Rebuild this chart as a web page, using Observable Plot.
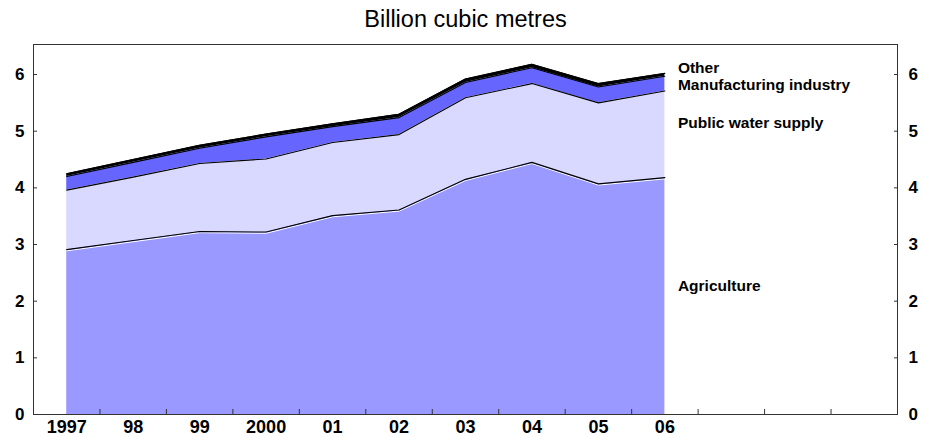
<!DOCTYPE html>
<html><head><meta charset="utf-8">
<script src="https://cdn.jsdelivr.net/npm/d3@7"></script>
<script src="https://cdn.jsdelivr.net/npm/@observablehq/plot@0.6"></script>
<style>body{margin:0;background:#fff} svg{font-family:"Liberation Sans",Arial,Helvetica,sans-serif}</style>
</head><body><div id="chart"></div>
<script>
const title = "Billion cubic metres";
const years = [1997, 1998, 1999, 2000, 2001, 2002, 2003, 2004, 2005, 2006];
const yearLabels = ["1997", "98", "99", "2000", "01", "02", "03", "04", "05", "06"];
const series = ["Agriculture", "Public water supply", "Manufacturing industry", "Other"];
const agriculture   = [2.91, 3.07, 3.23, 3.22, 3.51, 3.61, 4.15, 4.45, 4.07, 4.18];
const publicWater   = [1.05, 1.12, 1.20, 1.29, 1.29, 1.33, 1.44, 1.39, 1.43, 1.53];
const manufacturing = [0.24, 0.26, 0.27, 0.39, 0.28, 0.30, 0.27, 0.28, 0.28, 0.26];
const other         = [0.05, 0.05, 0.05, 0.05, 0.05, 0.06, 0.06, 0.06, 0.06, 0.05];
const colors = ["#9999ff", "#d9d9ff", "#6666ff", "#000000"];
const yTicks = [0, 1, 2, 3, 4, 5, 6];
const labelDy = [-10, -11, 1, -7];

const valuesBySeries = [agriculture, publicWater, manufacturing, other];
const data = [];
series.forEach((s, i) => years.forEach((y, j) => data.push({series: s, year: y, value: valuesBySeries[i][j]})));

// label anchors: mid of each band at the last year
const last = years.length - 1;
let cum = 0;
const labels = series.map((s, i) => {
  const v = valuesBySeries[i][last];
  const mid = cum + v / 2; cum += v;
  return {series: s, year: years[last], y: mid};
});

const xDomain = [years[0] - 0.5, years[0] + 12.5];
const xTicks = d3.range(xDomain[0] + 1, xDomain[1], 1);
const fmt = y => yearLabels[years.indexOf(y)];

const labelMarks = labels.map((l, i) =>
  Plot.text([l], {x: "year", y: "y", text: "series", dx: 13, dy: labelDy[i], textAnchor: "start", lineAnchor: "middle", fontSize: 15.5, fontWeight: "bold", fill: "#000"})
);

const chart = Plot.plot({
  width: 925, height: 437,
  marginTop: 44, marginBottom: 23, marginLeft: 33, marginRight: 28,
  x: {domain: xDomain},
  y: {domain: [0, 6.53]},
  color: {domain: series, range: colors},
  style: {fontFamily: '"Liberation Sans", Arial, sans-serif', background: "#fff"},
  marks: [
    Plot.areaY(data, {x: "year", y: "value", z: "series", fill: "series", order: series, curve: "linear"}),
    Plot.lineY(data.filter(d => d.series === series[0]), {x: "year", y: "value", stroke: "white", strokeWidth: 1, dy: 1.2}),
    Plot.lineY(data, Plot.stackY2({x: "year", y: "value", z: "series", order: series, stroke: "black", strokeWidth: 1.1})),
    Plot.frame({stroke: "#333", strokeWidth: 1}),
    Plot.axisX(xTicks, {anchor: "bottom", tickSize: -5, tickFormat: () => "", label: null, stroke: "#333"}),
    Plot.axisX(years, {anchor: "bottom", tickSize: 0, tickPadding: 6, tickFormat: fmt, label: null, fontSize: 18, fontWeight: "bold", fill: "#000"}),
    Plot.axisY(yTicks, {anchor: "left", tickSize: -4, tickPadding: 13, tickFormat: d3.format("d"), label: null, fontSize: 17, fontWeight: "bold", fill: "#000", stroke: "#333"}),
    Plot.axisY(yTicks, {anchor: "right", tickSize: -4, tickPadding: 15, tickFormat: d3.format("d"), label: null, fontSize: 17, fontWeight: "bold", fill: "#000", stroke: "#333"}),
    ...labelMarks,
    Plot.text([title], {frameAnchor: "top", dy: -25, lineAnchor: "middle", fontSize: 23.5, fill: "#000"})
  ]
});
document.getElementById("chart").appendChild(chart);
</script>
</body></html>
